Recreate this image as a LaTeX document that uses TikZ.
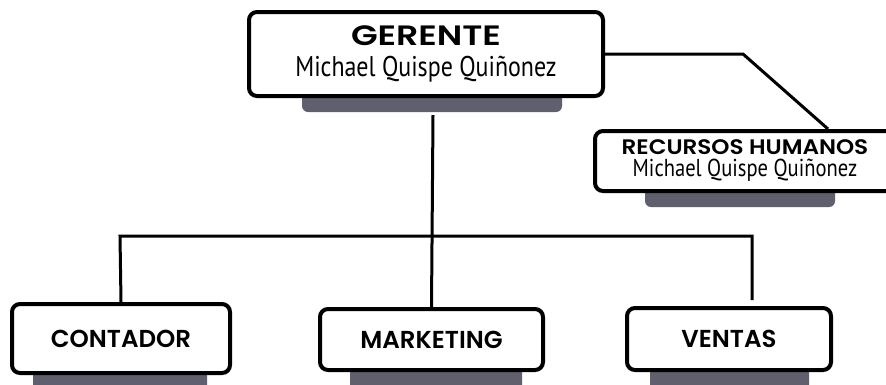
\documentclass[tikz,border=0pt]{standalone}
\usepackage{fontspec}
\setmainfont{Poppins}[BoldFont={Poppins SemiBold}]
\newfontfamily\anchofont[FakeStretch=1.24,BoldFont={Poppins SemiBold}]{Poppins}
\newfontfamily\mediofont[FakeStretch=1.1,BoldFont={Poppins SemiBold}]{Poppins}
\newfontfamily\namefont[FakeStretch=0.84]{PT Sans}
\definecolor{sombra}{RGB}{96,95,110}
\tikzset{
  caja/.style={draw=black, line width=4pt, rounded corners=8pt, fill=white, inner sep=0pt, align=center},
  bajo/.style={fill=sombra, rounded corners=6pt},
  linea/.style={line width=3pt},
  area/.style={font=\fontsize{24.5}{28}\selectfont\bfseries}
}

\begin{document}
\begin{tikzpicture}[x=1pt,y=-1pt]
   \useasboundingbox (0,0) rectangle (886,384);
   \clip (0,0) rectangle (886,384);

   % sombras
   \fill[bajo] (302,90) rectangle (562,112);
   \fill[bajo] (645,185) rectangle (835,207);
   \fill[bajo] (33,365) rectangle (207,395);
   \fill[bajo] (350,365) rectangle (522,395);
   \fill[bajo] (650,365) rectangle (809,395);

   % cajas
   \node[caja, minimum width=354pt, minimum height=84pt,
         font=\fontsize{28}{31.5}\selectfont] (ger) at (426,54)
      {\anchofont\bfseries GERENTE\\
       \fontsize{28.5}{31.5}\selectfont\namefont Michael Quispe Quiñonez};
   \node[caja, minimum width=300pt, minimum height=60pt,
         font=\fontsize{21}{22}\selectfont] (rrhh) at (745,161)
      {\mediofont\bfseries RECURSOS HUMANOS\\
       \fontsize{24.5}{22}\selectfont\namefont Michael Quispe Quiñonez};
   \node[caja, area, minimum width=218pt, minimum height=69pt] (cont) at (121,338.5) {CONTADOR};
   \node[caja, area, minimum width=223pt, minimum height=61pt] (mkt) at (431.5,339.5) {MARKETING};
   \node[caja, area, minimum width=204pt, minimum height=62pt] (vent) at (729,339) {VENTAS};

   % lineas
   \coordinate (g1) at (433,115);
   \coordinate (h1) at (120,236);
   \coordinate (h2) at (752,236);
   \coordinate (v1) at (752,300);
   \coordinate (r1) at (743,54);
   \coordinate (r2) at (828,129);

   \draw[linea] (g1) -- (mkt.north);
   \draw[linea] (cont.north) -- (h1) -- (h2) -- (v1);
   \draw[linea] (ger.east) -- (r1) -- (r2);

\end{tikzpicture}
\end{document}
